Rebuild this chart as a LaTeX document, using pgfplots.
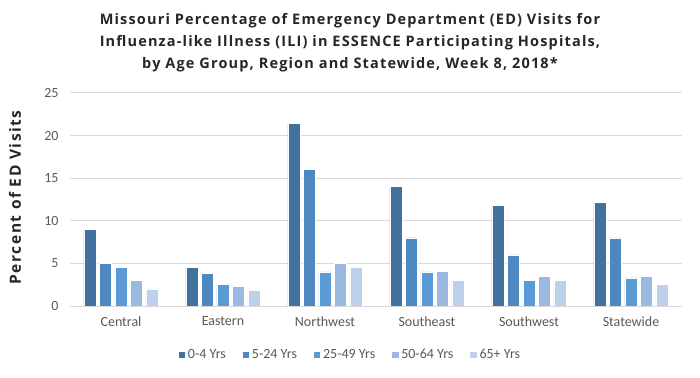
\documentclass[border=0pt]{standalone}
\usepackage{fontspec}
\setmainfont{Carlito}
\newfontfamily\titlefont[LetterSpace=8]{Open Sans}
\newfontfamily\ylabfont[LetterSpace=10]{Open Sans}
\usepackage{pgfplots}
\pgfplotsset{compat=1.18}
\definecolor{cA}{HTML}{41719C}
\definecolor{cB}{HTML}{4E88C0}
\definecolor{cC}{HTML}{5B9BD5}
\definecolor{cD}{HTML}{9BB9E0}
\definecolor{cE}{HTML}{BDD1EB}
\definecolor{tick}{HTML}{595959}
\definecolor{gridc}{HTML}{D9D9D9}
\begin{document}
\begin{tikzpicture}
\useasboundingbox (0,0) rectangle (700bp,378bp);
\node[anchor=north, align=center, font=\titlefont\fontsize{14.5bp}{22bp}\selectfont\bfseries, text=black!85] at (350bp,368bp)
 {Missouri Percentage of Emergency Department (ED) Visits for\\
  Influenza-like Illness (ILI) in ESSENCE Participating Hospitals,\\
  by Age Group, Region and Statewide, Week 8, 2018*};
\begin{axis}[
  at={(70bp,72bp)}, anchor=south west,
  width=612bp, height=213bp, scale only axis,
  ybar=3.2bp, bar width=12.3bp,
  xmin=-0.5, xmax=5.5, ymin=0, ymax=25,
  xtick={0,1,2,3,4,5},
  xticklabels={Central,Eastern,Northwest,Southeast,Southwest,Statewide},
  ytick={0,5,10,15,20,25},
  /pgf/number format/assume math mode=true,
  major tick length=0pt,
  axis line style={draw=none},
  ymajorgrids, grid style={gridc, line width=1bp},
  tick label style={font=\fontsize{14bp}{16bp}\selectfont, text=tick},
  yticklabel style={xshift=-8bp},
  xticklabel style={yshift=-7bp},
  ylabel={Percent of ED Visits},
  ylabel style={at={(axis description cs:-0.09,0.51)}, anchor=center, font=\ylabfont\fontsize{15.5bp}{18bp}\selectfont\bfseries, text=black!85},
  legend columns=5,
  legend style={at={(axis description cs:0.4575,-0.23)}, anchor=center, draw=none, fill=none,
    font=\fontsize{14bp}{16bp}\selectfont, text=tick,
    /tikz/every even column/.append style={column sep=14bp}},
  legend image code/.code={\fill[#1] (0bp,-3.8bp) rectangle (7.5bp,3.8bp);},
  every axis plot/.append style={draw=white, line width=0.6bp},
]
\addplot[fill=cA] coordinates {(0,9.0) (1,4.5) (2,21.4) (3,14.05) (4,11.8) (5,12.2)};
\addplot[fill=cB] coordinates {(0,5.0) (1,3.85) (2,16.0) (3,8.0) (4,6.0) (5,8.0)};
\addplot[fill=cC] coordinates {(0,4.5) (1,2.5) (2,4.0) (3,4.0) (4,3.0) (5,3.3)};
\addplot[fill=cD] coordinates {(0,3.0) (1,2.3) (2,5.0) (3,4.1) (4,3.5) (5,3.5)};
\addplot[fill=cE] coordinates {(0,2.0) (1,1.8) (2,4.5) (3,3.0) (4,3.0) (5,2.5)};
\legend{0-4 Yrs,5-24 Yrs,25-49 Yrs,50-64 Yrs,65+ Yrs}
\end{axis}
\end{tikzpicture}
\end{document}
